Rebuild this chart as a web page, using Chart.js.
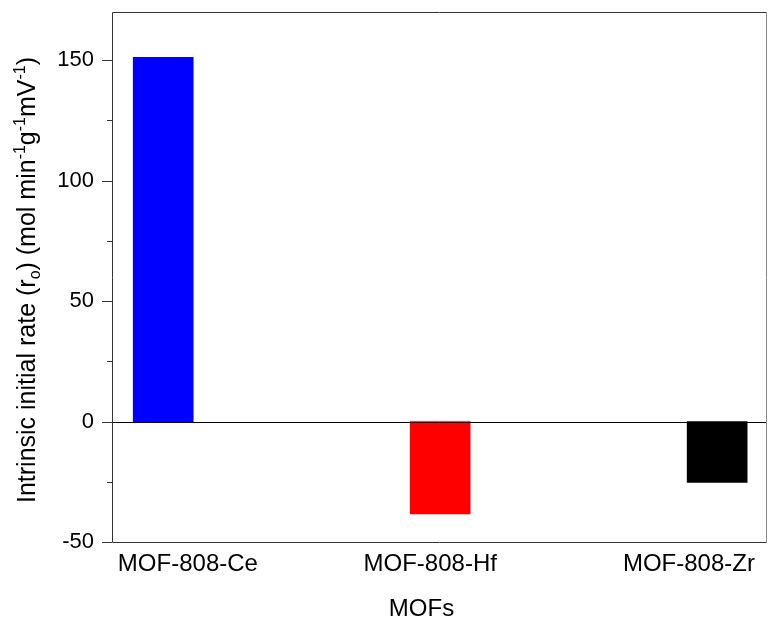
<!DOCTYPE html>
<html>
<head>
<meta charset="utf-8">
<script src="https://cdn.jsdelivr.net/npm/chart.js@4.4.1/dist/chart.umd.min.js"></script>
<style>
  html, body { margin: 0; padding: 0; background: #fff; }
  #wrap { width: 768px; height: 620px; position: relative; }
</style>
</head>
<body>
<div id="wrap"><canvas id="chart"></canvas></div>
<script>
// data
const mofs = ["MOF-808-Ce", "MOF-808-Hf", "MOF-808-Zr"];
const barPos = [1, 2, 3];
const rates = [151.2, -38.3, -25.3];
const barColors = ["#0000ff", "#ff0000", "#000000"];
// label positions along x (labels are not centred under the bars in the original)
const labelPos = [1.089, 1.964, 2.898];
const yMajor = [-50, 0, 50, 100, 150];
const yMinor = [-25, 25, 75, 125];

const FONT = "'Liberation Sans', Arial, sans-serif";
Chart.defaults.font.family = FONT;
Chart.defaults.color = "#000";

// y title pieces: [text, kind]
const yTitle = [
  ["Intrinsic initial rate (r", "n"], ["o", "sub"], [") (mol min", "n"],
  ["-1", "sup"], ["g", "n"], ["-1", "sup"], ["mV", "n"], ["-1", "sup"], [")", "n"]
];

const framePlugin = {
  id: "frame",
  afterDatasetsDraw(chart) {
    const { ctx, chartArea: a, scales } = chart;
    const y = scales.y;
    ctx.save();
    // zero line
    const y0 = Math.round(y.getPixelForValue(0)) + 0.5;
    ctx.strokeStyle = "#000";
    ctx.lineWidth = 1;
    ctx.beginPath();
    ctx.moveTo(a.left, y0);
    ctx.lineTo(a.right, y0);
    ctx.stroke();
    // frame
    ctx.strokeStyle = "#333";
    ctx.beginPath();
    ctx.moveTo(a.right - 0.5, a.top + 0.5);
    ctx.lineTo(a.left + 0.5, a.top + 0.5);
    ctx.lineTo(a.left + 0.5, a.bottom + 0.5);
    ctx.lineTo(a.right - 0.5, a.bottom + 0.5);
    ctx.stroke();
    ctx.strokeStyle = "#888";
    ctx.beginPath();
    ctx.moveTo(a.right - 0.5, a.top + 0.5);
    ctx.lineTo(a.right - 0.5, a.bottom + 0.5);
    ctx.stroke();
    // y ticks, major and minor
    ctx.strokeStyle = "#333";
    const tick = (v, len) => {
      const p = Math.round(y.getPixelForValue(v)) + 0.5;
      ctx.beginPath();
      ctx.moveTo(a.left - len, p);
      ctx.lineTo(a.left, p);
      ctx.stroke();
    };
    yMajor.forEach(v => tick(v, 10));
    yMinor.forEach(v => tick(v, 5));
    ctx.restore();
  },
  afterDraw(chart) {
    const { ctx, chartArea: a } = chart;
    ctx.save();
    ctx.fillStyle = "#000";
    // x title
    ctx.font = "24px " + FONT;
    ctx.textAlign = "center";
    ctx.textBaseline = "middle";
    ctx.fillText("MOFs", (a.left + a.right) / 2 - 18, 609);
    // y title with sub/superscripts
    const big = "25px " + FONT, small = "16px " + FONT;
    let total = 0;
    yTitle.forEach(([t, k]) => {
      ctx.font = k === "n" ? big : small;
      total += ctx.measureText(t).width;
    });
    ctx.translate(35, 280);
    ctx.rotate(-Math.PI / 2);
    ctx.textAlign = "left";
    ctx.textBaseline = "alphabetic";
    let x = -total / 2;
    yTitle.forEach(([t, k]) => {
      ctx.font = k === "n" ? big : small;
      const dy = k === "sub" ? 5 : k === "sup" ? -10 : 0;
      ctx.fillText(t, x, dy);
      x += ctx.measureText(t).width;
    });
    ctx.restore();
  }
};

new Chart(document.getElementById("chart"), {
  type: "bar",
  data: {
    datasets: [{
      data: rates.map((v, i) => ({ x: barPos[i], y: v })),
      backgroundColor: barColors,
      borderWidth: 0,
      barThickness: 60
    }]
  },
  options: {
    responsive: true,
    maintainAspectRatio: false,
    animation: false,
    layout: { padding: { top: 12, right: 1, left: 0, bottom: 0 } },
    plugins: { legend: { display: false }, tooltip: { enabled: false } },
    scales: {
      x: {
        type: "linear",
        min: 0.815,
        max: 3.18,
        offset: false,
        grid: { display: false, drawTicks: false },
        border: { display: false },
        afterBuildTicks: (scale) => {
          scale.ticks = labelPos.map(v => ({ value: v }));
        },
        afterFit: (scale) => {
          scale.height = 78;
          scale.paddingLeft = 0;
          scale.paddingRight = 0;
        },
        ticks: {
          autoSkip: false,
          maxRotation: 0,
          padding: 8,
          font: { size: 24 },
          callback: (value, index) => mofs[index]
        }
      },
      y: {
        min: -50,
        max: 170,
        grid: { display: false, drawTicks: false },
        border: { display: false },
        afterFit: (scale) => {
          scale.width = 112;
          scale.paddingTop = 0;
          scale.paddingBottom = 0;
        },
        ticks: {
          stepSize: 50,
          includeBounds: false,
          padding: 18,
          font: { size: 22 }
        }
      }
    }
  },
  plugins: [framePlugin]
});
</script>
</body>
</html>
